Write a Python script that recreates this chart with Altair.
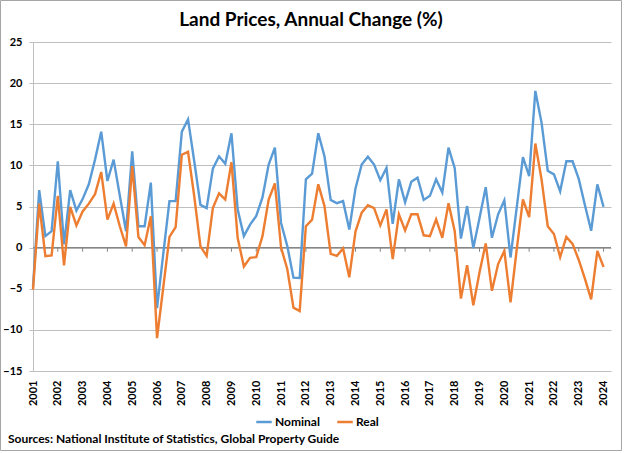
import altair as alt
import pandas as pd

# Quarterly series, 2001 Q1 .. 2024 Q1 (annual % change)
years = [str(y) for y in range(2001, 2025)]

nominal = [
    -4.8, 7.0, 1.4, 2.0, 10.5, 0.4, 7.0, 4.5, 5.9, 7.7, 10.7, 14.1,
    8.1, 10.7, 6.3, 2.0, 11.7, 2.6, 2.6, 7.9, -7.35, -0.8, 5.65, 5.65,
    14.1, 15.6, 10.5, 5.2, 4.8, 9.6, 11.1, 10.2, 13.9, 4.65, 1.4, 2.8,
    3.85, 6.1, 10.1, 12.15, 3.0, 0.2, -3.65, -3.7, 8.3, 9.0, 13.9, 11.1,
    5.8, 5.4, 5.65, 2.2, 7.2, 10.1, 11.05, 10.1, 8.2, 9.7, 2.9, 8.3,
    5.5, 8.0, 8.5, 5.8, 6.3, 8.3, 6.7, 12.15, 9.65, 1.1, 5.05, -0.05,
    3.6, 7.35, 1.2, 4.05, 5.75, -1.2, 4.9, 11.0, 8.7, 19.05, 15.2, 9.35,
    8.9, 6.85, 10.5, 10.5, 8.35, 5.15, 2.05, 7.7, 4.95,
]

real = [
    -5.1, 5.35, -1.05, -0.95, 6.3, -2.15, 4.95, 2.7, 4.4, 5.35, 6.5, 9.2,
    3.4, 5.35, 2.6, 0.15, 9.9, 1.3, 0.3, 3.8, -11.0, -4.85, 1.3, 2.5,
    11.3, 11.65, 6.25, 0.15, -1.0, 4.8, 6.6, 5.85, 10.4, 1.2, -2.3, -1.25,
    -1.15, 1.4, 5.85, 7.8, 0.0, -2.6, -7.3, -7.7, 2.6, 3.4, 7.7, 5.05,
    -0.75, -1.0, -0.1, -3.6, 1.95, 4.25, 5.15, 4.8, 2.7, 4.65, -1.4, 4.05,
    2.1, 4.05, 4.05, 1.5, 1.4, 3.45, 1.2, 5.4, 2.0, -6.2, -2.15, -7.0,
    -3.0, 0.5, -5.25, -2.0, -0.4, -6.65, -0.2, 5.85, 3.7, 12.65, 8.3, 2.6,
    1.65, -1.15, 1.3, 0.45, -1.5, -3.8, -6.3, -0.4, -2.35,
]

series_names = ["Nominal", "Real"]
series_colors = ["#5B9BD5", "#ED7D31"]

title_text = "Land Prices, Annual Change (%)"
source_text = "Sources: National Institute of Statistics, Global Property Guide"

FONT = "Lato"

n = len(nominal)
df = pd.DataFrame({
    "q": list(range(n)) * 2,
    "value": nominal + real,
    "series": [series_names[0]] * n + [series_names[1]] * n,
})

year_starts = [4 * k for k in range(len(years))]
year_label_expr = "[" + ",".join(f"'{y}'" for y in years) + "][round(datum.value / 4)]"

x_scale = alt.Scale(domain=[0, 93.2], nice=False, zero=False)
y_scale = alt.Scale(domain=[-15, 25], nice=False)

x_axis = alt.Axis(
    values=year_starts,
    labelExpr=year_label_expr,
    labelAngle=270,
    labelFont=FONT,
    labelFontSize=11,
    labelFontWeight="bold",
    labelColor="#000000",
    labelPadding=9,
    labelOverlap=False,
    labelSeparation=0,
    labelFlush=False,
    ticks=False,
    domain=False,
    grid=False,
    title=None,
)

y_axis = alt.Axis(
    values=list(range(-15, 26, 5)),
    labelFont=FONT,
    labelFontSize=11,
    labelFontWeight="bold",
    labelColor="#000000",
    labelPadding=7,
    tickSize=4,
    tickColor="#bfbfbf",
    domainColor="#bfbfbf",
    gridColor="#bfbfbf",
    gridWidth=1.2,
    title=None,
)

lines = alt.Chart(df).mark_line(strokeWidth=2.4).encode(
    x=alt.X("q:Q", scale=x_scale, axis=x_axis),
    y=alt.Y("value:Q", scale=y_scale, axis=y_axis),
    color=alt.Color(
        "series:N",
        scale=alt.Scale(domain=series_names, range=series_colors),
        legend=alt.Legend(
            orient="none",
            legendX=222,
            legendY=371,
            direction="horizontal",
            symbolType="stroke",
            symbolSize=240,
            symbolStrokeWidth=2.5,
            labelFont=FONT,
            labelFontSize=12,
            labelFontWeight="bold",
            labelColor="#000000",
            labelOffset=2,
            columnPadding=12,
            padding=0,
            title=None,
        ),
    ),
)

# category axis crossing at zero, with tick marks at each year start
tick_df = pd.DataFrame({"q": year_starts[1:]})
tick_df["top"] = 0.0
tick_df["bottom"] = -0.5

zero_ticks = alt.Chart(tick_df).mark_rule(color="#868686", strokeWidth=1).encode(
    x=alt.X("q:Q", scale=x_scale, axis=x_axis),
    y=alt.Y("top:Q", scale=y_scale, axis=y_axis),
    y2="bottom:Q",
)

zero_line = alt.Chart(pd.DataFrame({"value": [0.0]})).mark_rule(
    color="#868686", strokeWidth=1.2
).encode(y=alt.Y("value:Q", scale=y_scale, axis=y_axis))

title_mark = alt.Chart(pd.DataFrame({"t": [title_text]})).mark_text(
    font=FONT, fontSize=19, fontWeight="bold", color="#000000",
    align="center", baseline="middle",
).encode(text="t:N", x=alt.value(278), y=alt.value(-22))

source_mark = alt.Chart(pd.DataFrame({"t": [source_text]})).mark_text(
    font=FONT, fontSize=12, fontWeight="bold", color="#000000",
    align="left", baseline="middle",
).encode(text="t:N", x=alt.value(-25), y=alt.value(397))

frame = alt.Chart(pd.DataFrame({"a": [0]})).mark_rect(
    filled=False, stroke="#a6a6a6", strokeWidth=1
).encode(
    x=alt.value(-32.5), x2=alt.value(588.5),
    y=alt.value(-41.5), y2=alt.value(408.5),
)

chart = alt.layer(
    zero_line, zero_ticks, lines, title_mark, source_mark, frame
).properties(
    width=578,
    height=329,
    autosize=alt.AutoSizeParams(type="none"),
    padding={"left": 33, "top": 42, "right": 13, "bottom": 82},
    background="#ffffff",
).configure_view(stroke="transparent")

chart.save("out.html", embed_options={"renderer": "svg", "actions": False})
